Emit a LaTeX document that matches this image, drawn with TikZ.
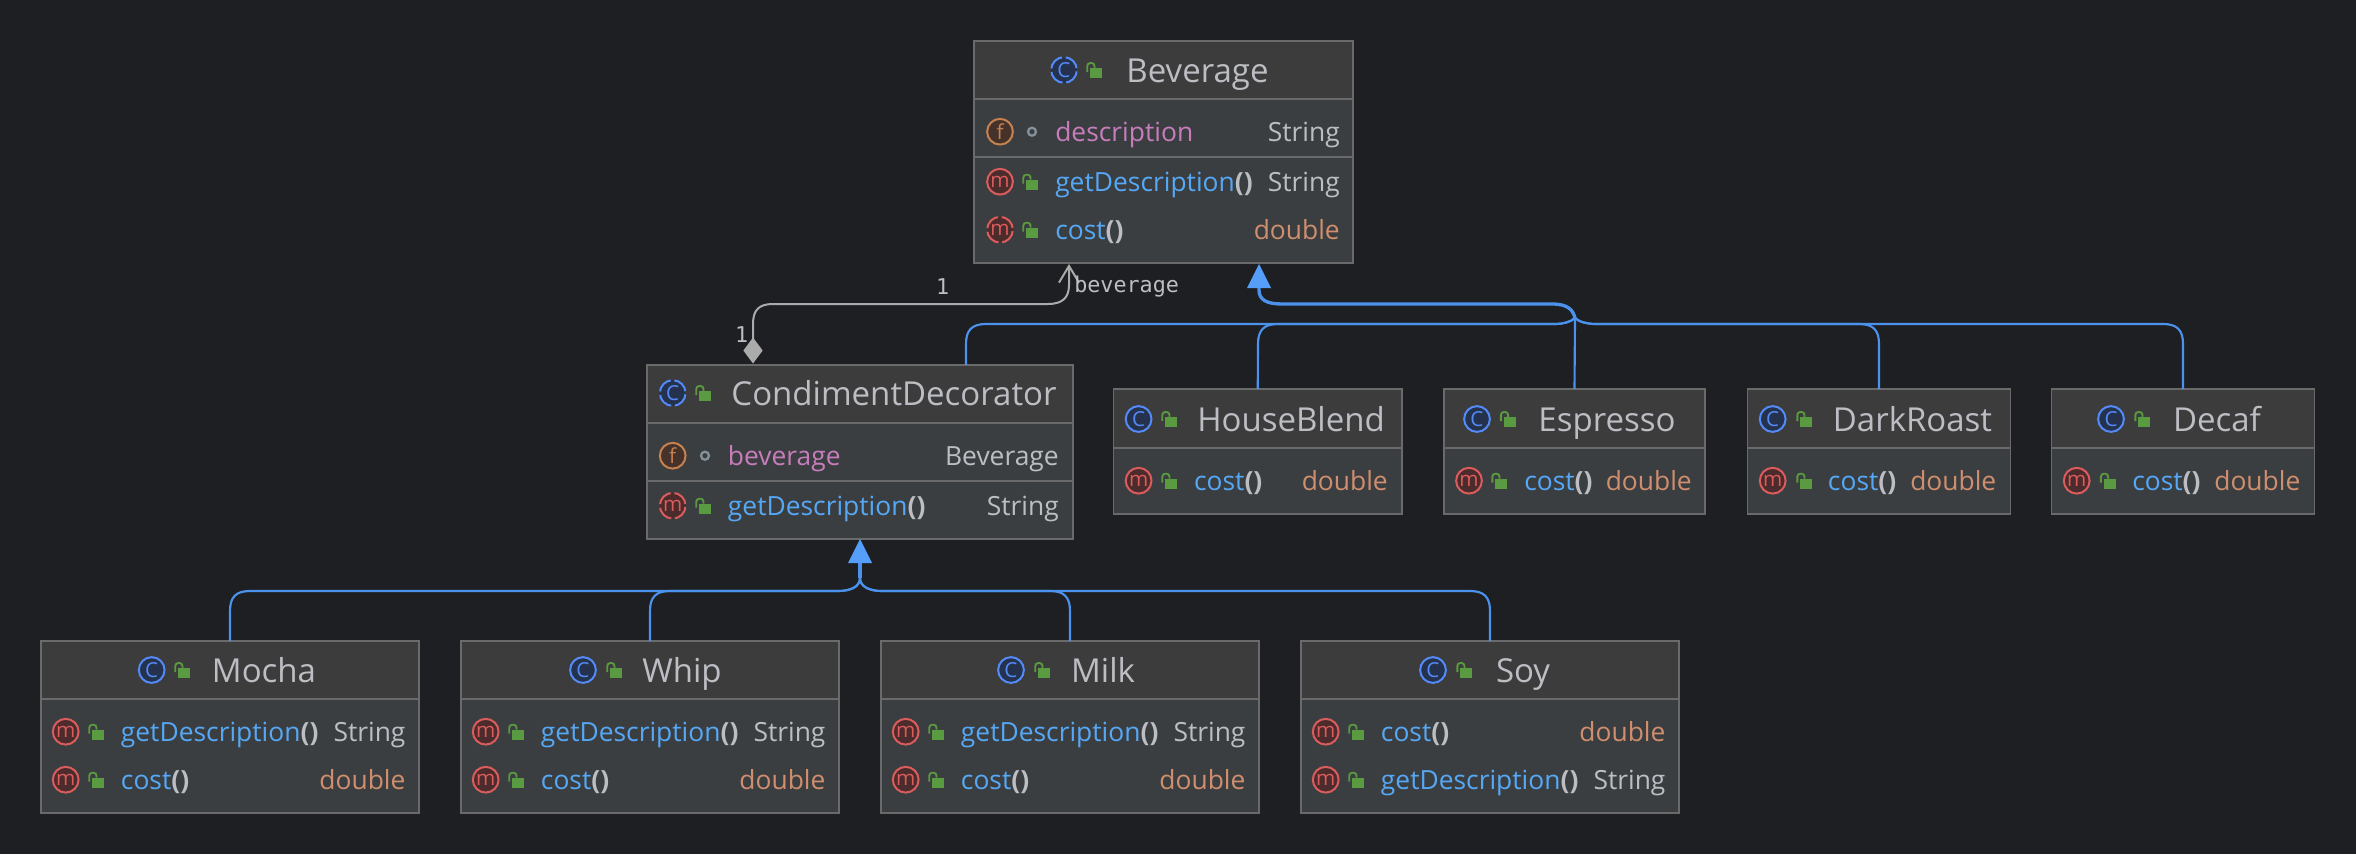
\documentclass[tikz,border=0pt]{standalone}
\usepackage{fontspec}
\setmainfont{Open Sans}
\newfontfamily\monof{DejaVu Sans Mono}
\usetikzlibrary{arrows.meta,calc}
\definecolor{bgc}{HTML}{1E1F22}
\definecolor{titlebg}{HTML}{3D3C3C}
\definecolor{rowbg}{HTML}{3B3E41}
\definecolor{edgec}{HTML}{6A6A6A}
\definecolor{txt}{HTML}{BCBEC4}
\definecolor{mblue}{HTML}{56A8F5}
\definecolor{fpink}{HTML}{C77DBB}
\definecolor{torange}{HTML}{CF8E6D}
\definecolor{linkb}{HTML}{4A92EC}
\definecolor{tipb}{HTML}{559FFA}
\definecolor{assoc}{HTML}{ABABAB}
\definecolor{lockg}{HTML}{5A9A40}
\definecolor{dotc}{HTML}{84929C}
\definecolor{cstroke}{HTML}{548AF7}
\definecolor{cfill}{HTML}{25324D}
\definecolor{mstroke}{HTML}{DB5C5C}
\definecolor{mfill}{HTML}{4B2B2B}
\definecolor{fstroke}{HTML}{C7814F}
\definecolor{ffill}{HTML}{45332B}
\tikzset{
  classbody/.style={fill=rowbg,inner sep=0pt,outer sep=0pt,anchor=north west},
  sepline/.style={draw=edgec,line width=1.25pt},
  iconbase/.style={circle,inner sep=0pt,outer sep=0pt,minimum size=19.3pt,line width=1.5pt,font=\fontsize{15.5}{15.5}\selectfont},
  iconc/.style={iconbase,draw=cstroke,fill=cfill,text=cstroke},
  iconm/.style={iconbase,draw=mstroke,fill=mfill,text=mstroke},
  iconf/.style={iconbase,draw=fstroke,fill=ffill,text=fstroke},
  gapped/.style={dash pattern=on 12.3pt off 2.85pt,dash phase=13.7pt},
  titletext/.style={anchor=base,inner sep=0pt,text=txt,font=\fontsize{24.75}{26}\selectfont},
  rowname/.style={anchor=base west,inner sep=0pt,font=\fontsize{19.8}{21}\selectfont},
  rowtype/.style={anchor=base east,inner sep=0pt,font=\fontsize{19.8}{21}\selectfont},
  monolabel/.style={inner sep=0pt,text=txt,font=\monof\fontsize{16.3}{17}\selectfont},
  inherit/.style={draw=linkb,line width=1.6pt},
  trunk/.style={draw=linkb,line width=2.5pt,-{Triangle[width=18pt,length=18pt,fill=tipb,color=tipb,line width=0pt]}},
  assocline/.style={draw=assoc,line width=1.5pt,
    {Diamond[width=14.5pt,length=19.5pt,fill=assoc,color=assoc,line width=0pt]}-{Straight Barb[width=15pt,length=12.5pt,line width=1.5pt]}},
}
% name, x1, y1, x2, y2, first separator, second separator
\newcommand\classbox[7]{%
  \node[classbody,minimum width={(#4-#2)*0.75pt},minimum height={(#5-#3)*0.75pt}] (#1) at (#2,#3) {};
  \fill[titlebg] (#2,#3) rectangle (#4,#6);
  \draw[sepline] (#2,#6) -- (#4,#6);
  \ifx&#7&\else\draw[sepline] (#2,#7) -- (#4,#7);\fi
  \draw[edgec,line width=1.25pt] (#2,#3) rectangle (#4,#5);
}
% lock at x,y
\newcommand\lockicon[2]{%
  \fill[lockg] (#1-4,#2-2) rectangle (#1+8,#2+8);
  \draw[lockg,line width=1.4pt,rounded corners=2.2pt] (#1-6.7,#2+2) -- (#1-6.7,#2-7) -- (#1+0.5,#2-7) -- (#1+0.5,#2-2);
}
% prefix, icon style, letter, icon x, lock x, text centre x, y, name
\newcommand\titlerow[8]{%
  \node[#2] (#1icon) at (#4,#7) {#3};
  \lockicon{#5}{#7}
  \node[titletext] (#1title) at (#6,#7+12) {#8};
}
\newcommand\setcols[4]{\def\IX{#1}\def\LX{#2}\def\TX{#3}\def\RX{#4}}
% prefix, icon y, name, type, type colour, icon options
\newcommand\methodrow[6]{%
  \node[iconm,#6] (#1icon) at (\IX,#2) {m};
  \lockicon{\LX}{#2}
  \node[rowname] (#1name) at (\TX,#2+10) {\textcolor{mblue}{#3}\textcolor{txt}{\bfseries()}};
  \node[rowtype,text=#5] (#1type) at (\RX,#2+10) {#4};
}
% prefix, icon y, name, type
\newcommand\fieldrow[4]{%
  \node[iconf] (#1icon) at (\IX,#2) {f};
  \node[circle,draw=dotc,line width=1.7pt,minimum size=6pt,inner sep=0pt] (#1dot) at (\LX+2,#2) {};
  \node[rowname,text=fpink] (#1name) at (\TX,#2+10) {#3};
  \node[rowtype,text=txt] (#1type) at (\RX,#2+10) {#4};
}
\begin{document}
\begin{tikzpicture}[x=0.75pt,y=-0.75pt]
\useasboundingbox (0,0) rectangle (2356,854);
\fill[bgc] (0,0) rectangle (2356,854);

% Beverage
\classbox{bev}{974}{41}{1353}{263}{99}{157}
\titlerow{bevT}{iconc,gapped}{C}{1064}{1094}{1197.5}{70}{Beverage}
\setcols{1000}{1030}{1055}{1340}
\fieldrow{bevA}{131.7}{description}{String}
\methodrow{bevB}{181.7}{getDescription}{String}{txt}{}
\methodrow{bevC}{229.7}{cost}{double}{torange}{gapped}

% CondimentDecorator
\classbox{cd}{647}{365}{1073}{539}{423}{481}
\titlerow{cdT}{iconc,gapped}{C}{672.7}{703}{894}{393}{CondimentDecorator}
\setcols{672.7}{703}{727.7}{1059}
\fieldrow{cdA}{455.7}{beverage}{Beverage}
\methodrow{cdB}{505.7}{getDescription}{String}{txt}{gapped}

% Concrete beverages
\classbox{hb}{1113.5}{389}{1402}{514}{448}{}
\titlerow{hbT}{iconc}{C}{1138.6}{1169}{1291}{419}{HouseBlend}
\setcols{1138.6}{1169}{1193.8}{1388}
\methodrow{hbB}{480.7}{cost}{double}{torange}{}

\classbox{esp}{1444}{389}{1705}{514}{448}{}
\titlerow{espT}{iconc}{C}{1477}{1507.6}{1607}{419}{Espresso}
\setcols{1469}{1499}{1524}{1692}
\methodrow{espB}{480.7}{cost}{double}{torange}{}

\classbox{dr}{1747.5}{389}{2010.5}{514}{448}{}
\titlerow{drT}{iconc}{C}{1772.7}{1804}{1912.5}{419}{DarkRoast}
\setcols{1772.7}{1804}{1827.7}{1996.5}
\methodrow{drB}{480.7}{cost}{double}{torange}{}

\classbox{dec}{2051.5}{389}{2314.5}{514}{448}{}
\titlerow{decT}{iconc}{C}{2111}{2142}{2217}{419}{Decaf}
\setcols{2076.7}{2107.6}{2132}{2300.6}
\methodrow{decB}{480.7}{cost}{double}{torange}{}

% Condiments
\classbox{mocha}{41}{641}{419}{813}{699}{}
\titlerow{mochaT}{iconc}{C}{151.7}{182}{264}{670}{Mocha}
\setcols{65.7}{96}{120.7}{405.7}
\methodrow{mochaA}{731.7}{getDescription}{String}{txt}{}
\methodrow{mochaB}{779.7}{cost}{double}{torange}{}

\classbox{whip}{461}{641}{839}{813}{699}{}
\titlerow{whipT}{iconc}{C}{583}{614}{682}{670}{Whip}
\setcols{485.7}{516}{540.7}{825.7}
\methodrow{whipA}{731.7}{getDescription}{String}{txt}{}
\methodrow{whipB}{779.7}{cost}{double}{torange}{}

\classbox{milk}{881}{641}{1259}{813}{699}{}
\titlerow{milkT}{iconc}{C}{1011}{1042}{1103}{670}{Milk}
\setcols{905.7}{936}{960.7}{1245.7}
\methodrow{milkA}{731.7}{getDescription}{String}{txt}{}
\methodrow{milkB}{779.7}{cost}{double}{torange}{}

\classbox{soy}{1301}{641}{1679}{813}{699}{}
\titlerow{soyT}{iconc}{C}{1433}{1464}{1523}{670}{Soy}
\setcols{1325.7}{1356}{1380.7}{1665.7}
\methodrow{soyA}{731.7}{cost}{double}{torange}{}
\methodrow{soyB}{779.7}{getDescription}{String}{txt}{}

% connector points
\coordinate (bevIn) at (1259,264);
\coordinate (bevAssoc) at (1069,264);
\coordinate (cdOut) at (966,365);
\coordinate (cdDiamond) at (753,363.5);
\coordinate (jU) at (1575,318);
\coordinate (jL) at (860,578);

% generalisation to Beverage
\draw[inherit] (cdOut) -- (966,344) .. controls (966,330) and (972,324) .. (986,324) -- (1556,324) .. controls (1562,324) and (1571,322) .. (jU);
\draw[inherit] (hb.north) -- (1258,344) .. controls (1258,330) and (1264,324) .. (1278,324) -- (1556,324) .. controls (1562,324) and (1571,322) .. (jU);
\draw[inherit] (esp.north) -- (jU);
\draw[inherit] (dr.north) -- (1879,344) .. controls (1879,330) and (1873,324) .. (1859,324) -- (1595,324) .. controls (1588,324) and (1579,322) .. (jU);
\draw[inherit] (dec.north) -- (2183,344) .. controls (2183,330) and (2177,324) .. (2163,324) -- (1595,324) .. controls (1588,324) and (1579,322) .. (jU);
\draw[trunk] (jU) .. controls (1573,310) and (1568,304) .. (1552,304) -- (1282,304) .. controls (1267,304) and (1259,300) .. (1259,290) -- (bevIn);

% generalisation to CondimentDecorator
\draw[inherit] (mocha.north) -- (230,611) .. controls (230,597) and (236,591) .. (250,591) -- (838,591) .. controls (850,591) and (860,587) .. (jL);
\draw[inherit] (whip.north) -- (650,611) .. controls (650,597) and (656,591) .. (670,591) -- (838,591) .. controls (850,591) and (860,587) .. (jL);
\draw[inherit] (milk.north) -- (1070,611) .. controls (1070,597) and (1064,591) .. (1050,591) -- (882,591) .. controls (870,591) and (860,587) .. (jL);
\draw[inherit] (soy.north) -- (1490,611) .. controls (1490,597) and (1484,591) .. (1470,591) -- (882,591) .. controls (870,591) and (860,587) .. (jL);
\draw[trunk] (jL) -- (cd.south);

% association
\draw[assocline] (cdDiamond) -- (753,324) .. controls (753,310) and (759,304) .. (773,304) -- (1048,304) .. controls (1062,304) and (1069,298) .. (1069,285) -- (bevAssoc);
\node[monolabel,anchor=base] (labA) at (942.7,294.3) {1};
\node[monolabel,anchor=base] (labB) at (741.7,342.3) {1};
\node[monolabel,anchor=base west] (labC) at (1074,292.7) {beverage};
\end{tikzpicture}
\end{document}
